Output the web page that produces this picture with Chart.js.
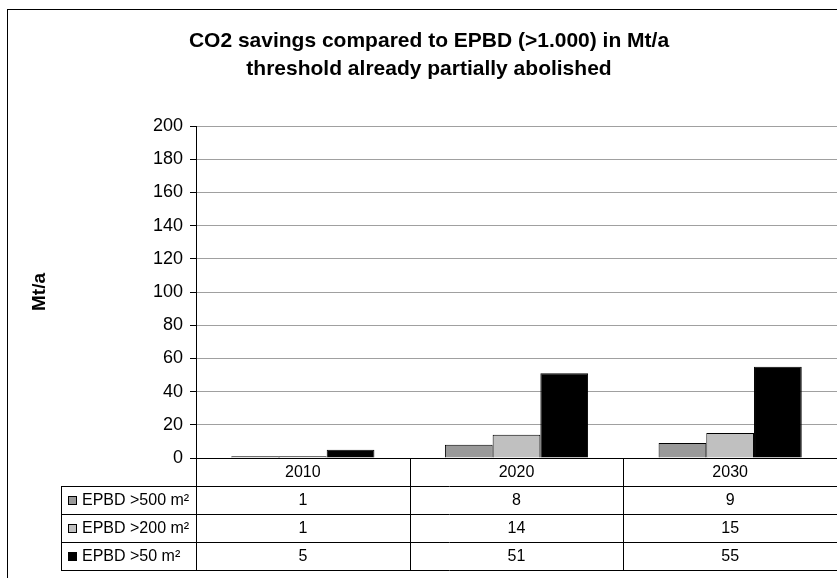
<!DOCTYPE html>
<html>
<head>
<meta charset="utf-8">
<script src="https://cdn.jsdelivr.net/npm/chart.js@4/dist/chart.umd.min.js"></script>
<style>
    body { margin: 0; background: #fff; }
    canvas { display: block; }
</style>
</head>
<body>
<canvas id="co2Chart" width="837" height="578"></canvas>
<script>
const years = ['2010', '2020', '2030'];
const epbd500 = [1, 8, 9];
const epbd200 = [1, 14, 15];
const epbd50 = [5, 51, 55];
const seriesNames = ['EPBD >500 m²', 'EPBD >200 m²', 'EPBD >50 m²'];
const seriesColors = ['#999999', '#c0c0c0', '#000000'];
const titleLines = ['CO2 savings compared to EPBD (>1.000) in Mt/a', 'threshold already partially abolished'];

const FONT = "Arial, 'Liberation Sans', sans-serif";

// two-line title, centred a bit right of the canvas middle like the original
const chartTitle = {
    id: 'chartTitle',
    afterDraw(chart) {
        const ctx = chart.ctx;
        ctx.save();
        ctx.fillStyle = '#000';
        ctx.font = 'bold 21px ' + FONT;
        ctx.textAlign = 'center';
        ctx.textBaseline = 'alphabetic';
        titleLines.forEach((line, i) => {
            ctx.fillText(line, 429, 47 + i * 28);
        });
        ctx.restore();
    }
};

// data table under the plot + outer frame
const dataTable = {
    id: 'dataTable',
    afterDraw(chart) {
        const ctx = chart.ctx;
        const area = chart.chartArea;
        const x = chart.scales.x;
        const cellW = (area.right - area.left) / years.length;
        const rowH = 28;
        const legendLeft = 61;
        const seriesData = [epbd500, epbd200, epbd50];
        const nRows = seriesData.length + 1;

        ctx.save();
        ctx.strokeStyle = '#000';
        ctx.lineWidth = 1;

        // outer frame
        ctx.strokeRect(7.5, 9.5, 900, 700);

        ctx.beginPath();
        // axis / header top
        ctx.moveTo(area.left, Math.round(area.bottom) + 0.5);
        ctx.lineTo(area.right + 2, Math.round(area.bottom) + 0.5);
        // row lines
        for (let r = 1; r <= nRows; r++) {
            const y = Math.round(area.bottom + r * rowH) + 0.5;
            ctx.moveTo(legendLeft, y);
            ctx.lineTo(area.right + 2, y);
        }
        const tableBottom = Math.round(area.bottom + nRows * rowH) + 0.5;
        // vertical dividers
        for (let i = 0; i <= years.length; i++) {
            const xx = Math.round(area.left + i * cellW) + 0.5;
            ctx.moveTo(xx, area.bottom);
            ctx.lineTo(xx, tableBottom);
        }
        ctx.moveTo(legendLeft + 0.5, area.bottom + rowH);
        ctx.lineTo(legendLeft + 0.5, tableBottom);
        ctx.stroke();

        ctx.fillStyle = '#000';
        ctx.font = '16px ' + FONT;
        ctx.textAlign = 'center';
        ctx.textBaseline = 'middle';
        years.forEach((yr, i) => {
            ctx.fillText(yr, x.getPixelForValue(i), area.bottom + rowH / 2 + 1);
        });

        seriesData.forEach((vals, r) => {
            const cy = area.bottom + rowH * (r + 1) + rowH / 2 + 1;
            vals.forEach((v, i) => {
                ctx.textAlign = 'center';
                ctx.fillStyle = '#000';
                ctx.fillText(String(v), x.getPixelForValue(i), cy);
            });
            // legend key
            ctx.fillStyle = seriesColors[r];
            ctx.fillRect(68, Math.round(cy - 5), 9, 9);
            ctx.strokeRect(68.5, Math.round(cy - 5) + 0.5, 8, 8);
            ctx.fillStyle = '#000';
            ctx.textAlign = 'left';
            ctx.fillText(seriesNames[r], 82, cy);
        });
        ctx.restore();
    }
};

const ctx = document.getElementById('co2Chart').getContext('2d');
new Chart(ctx, {
    type: 'bar',
    data: {
        labels: years,
        datasets: [epbd500, epbd200, epbd50].map((vals, i) => ({
            label: seriesNames[i],
            data: vals,
            backgroundColor: seriesColors[i],
            borderColor: '#000',
            borderWidth: 1,
            borderSkipped: 'start',
            categoryPercentage: 0.67,
            barPercentage: 1.0
        }))
    },
    options: {
        responsive: false,
        animation: false,
        layout: { padding: { top: 126, left: 0, right: 0, bottom: 120 } },
        plugins: {
            legend: { display: false },
            tooltip: { enabled: false },
            title: { display: false }
        },
        scales: {
            x: { display: false },
            y: {
                min: 0,
                max: 200,
                afterFit: s => { s.width = 196; },
                ticks: {
                    stepSize: 20,
                    color: '#000',
                    padding: 7,
                    font: { family: FONT, size: 18 }
                },
                grid: {
                    color: '#a0a0a0',
                    tickColor: '#000',
                    tickLength: 6
                },
                border: { color: '#000' },
                title: {
                    display: true,
                    text: 'Mt/a',
                    color: '#000',
                    padding: { top: 28, bottom: 0 },
                    font: { family: FONT, size: 19, weight: 'bold' }
                }
            }
        }
    },
    plugins: [dataTable, chartTitle]
});
</script>
</body>
</html>
